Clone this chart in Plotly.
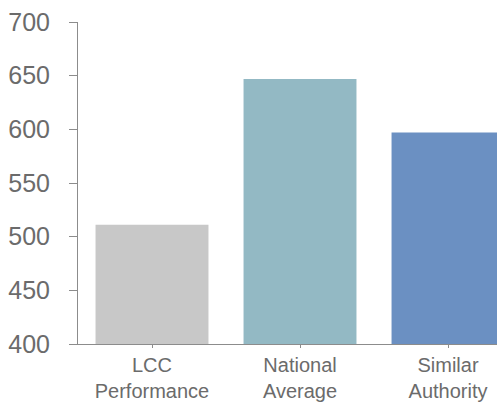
import plotly.graph_objects as go

categories = ["LCC<br>Performance", "National<br>Average", "Similar<br>Authority"]
values = [511, 647, 597]
bar_colors = ["#c8c8c8", "#93b9c4", "#6b90c2"]
y_ticks = [400, 450, 500, 550, 600, 650, 700]

fig = go.Figure(
    go.Bar(
        x=[0, 1, 2],
        y=values,
        base=0,
        marker=dict(color=bar_colors, line=dict(width=0)),
        hoverinfo="skip",
    )
)

fig.update_layout(
    width=497,
    height=404,
    margin=dict(l=78, r=0, t=22, b=60),
    paper_bgcolor="white",
    plot_bgcolor="white",
    showlegend=False,
    bargap=0.237,
    font=dict(family="Liberation Sans, Arial, sans-serif", color="#6b6b6b"),
)

fig.update_xaxes(
    range=[-0.5, 2.331],
    tickmode="array",
    tickvals=[0, 1, 2],
    ticktext=categories,
    tickson="boundaries",
    ticks="outside",
    ticklen=3,
    tickcolor="#8c8c8c",
    showline=True,
    linecolor="#8c8c8c",
    linewidth=1,
    showgrid=False,
    zeroline=False,
    automargin=False,
    tickfont=dict(size=20, color="#6b6b6b"),
)

fig.update_yaxes(
    range=[400, 700],
    tickmode="array",
    tickvals=y_ticks,
    ticks="outside",
    ticklen=8,
    tickcolor="#8c8c8c",
    showline=True,
    linecolor="#8c8c8c",
    linewidth=1,
    showgrid=False,
    zeroline=False,
    automargin=False,
    tickfont=dict(size=25, color="#6b6b6b"),
    ticklabelstandoff=14,
)

fig.write_html("out.html")
